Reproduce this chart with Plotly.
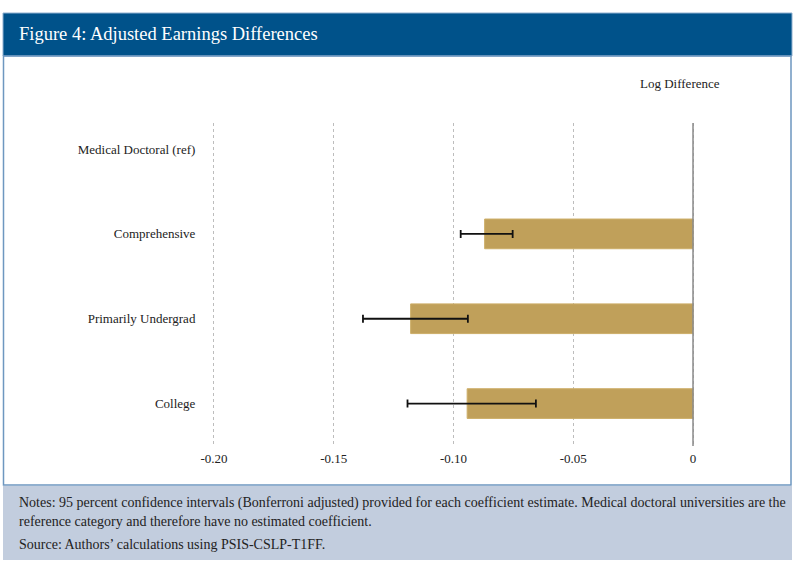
import plotly.graph_objects as go

categories = ["Medical Doctoral (ref)", "Comprehensive", "Primarily Undergrad", "College"]
estimates = [None, -0.0870, -0.1179, -0.0943]
ci_lower = [None, -0.0970, -0.1378, -0.1192]
ci_upper = [None, -0.0753, -0.0940, -0.0656]
tick_vals = [-0.20, -0.15, -0.10, -0.05, 0]
tick_text = ["-0.20", "-0.15", "-0.10", "-0.05", "0"]

title_text = "Figure 4: Adjusted Earnings Differences"
axis_title = "Log Difference"
notes_l1 = ("Notes: 95 percent confidence intervals (Bonferroni adjusted) provided for each coefficient "
            "estimate. Medical doctoral universities are the")
notes_l2 = "reference category and therefore have no estimated coefficient."
source_text = "Source: Authors\u2019 calculations using PSIS-CSLP-T1FF."

W, H = 800, 564
FONT = "Liberation Serif"

def fx(px):
    return px / W

def fy(py):
    return 1 - py / H

err_plus = [None if e is None else u - e for e, u in zip(estimates, ci_upper)]
err_minus = [None if e is None else e - l for e, l in zip(estimates, ci_lower)]

fig = go.Figure()
fig.add_trace(go.Bar(
    y=categories, x=estimates, orientation="h", width=0.35,
    marker=dict(color="#C0A05A", line=dict(color="#CDAE68", width=1)),
    error_x=dict(type="data", symmetric=False, array=err_plus, arrayminus=err_minus,
                 color="#111111", thickness=1.8, width=4),
    showlegend=False, hoverinfo="skip",
))

shapes = [
    # title bar
    dict(type="rect", xref="paper", yref="paper", x0=fx(3), x1=fx(792), y0=fy(56), y1=fy(13),
         fillcolor="#00528A", line=dict(color="#8FB0D0", width=1), layer="below"),
    # white panel border
    dict(type="rect", xref="paper", yref="paper", x0=fx(3.5), x1=fx(791), y0=fy(485), y1=fy(56),
         fillcolor="rgba(0,0,0,0)", line=dict(color="#6E97C0", width=1.5), layer="below"),
    # notes background
    dict(type="rect", xref="paper", yref="paper", x0=fx(3), x1=fx(792), y0=fy(560), y1=fy(486),
         fillcolor="#C2CDDE", line=dict(width=0), layer="below"),
    # zero line
    dict(type="line", xref="x", yref="paper", x0=0, x1=0, y0=fy(446), y1=fy(123),
         line=dict(color="#8A8A8A", width=1.5)),
]

annotations = [
    dict(text=title_text, x=fx(17), y=fy(34), xref="paper", yref="paper", xanchor="left",
         yanchor="middle", showarrow=False, font=dict(family=FONT, size=18.5, color="white")),
    dict(text=axis_title, x=fx(680), y=fy(83), xref="paper", yref="paper", xanchor="center",
         yanchor="middle", showarrow=False, font=dict(family=FONT, size=13, color="#222222")),
    dict(text=notes_l1, x=fx(17), y=fy(503), xref="paper", yref="paper", xanchor="left",
         yanchor="middle", showarrow=False, font=dict(family=FONT, size=14, color="#222222")),
    dict(text=notes_l2, x=fx(17), y=fy(521), xref="paper", yref="paper", xanchor="left",
         yanchor="middle", showarrow=False, font=dict(family=FONT, size=14, color="#222222")),
    dict(text=source_text, x=fx(17), y=fy(544), xref="paper", yref="paper", xanchor="left",
         yanchor="middle", showarrow=False, font=dict(family=FONT, size=14, color="#222222")),
]

fig.update_layout(
    width=W, height=H,
    margin=dict(l=0, r=0, t=0, b=0, pad=0, autoexpand=False),
    paper_bgcolor="white", plot_bgcolor="white",
    font=dict(family=FONT, size=13, color="#222222"),
    shapes=shapes, annotations=annotations,
    xaxis=dict(domain=[fx(210.4), fx(696.6)], range=[-0.2015, 0.0015], automargin=False,
               tickvals=tick_vals, ticktext=tick_text,
               showgrid=True, gridcolor="#BDBDBD", griddash="dot", gridwidth=1,
               zeroline=False, showline=False, ticks="", ticklabelstandoff=3,
               tickfont=dict(family=FONT, size=13, color="#222222"), fixedrange=True),
    yaxis=dict(domain=[fy(446), fy(123)], type="category", automargin=False,
               categoryorder="array", categoryarray=categories,
               range=[3.5, -0.307], showgrid=False, zeroline=False, showline=False,
               ticks="", ticklabelstandoff=14,
               tickfont=dict(family=FONT, size=13, color="#222222"), fixedrange=True),
    bargap=0.65,
)

fig.write_html("out.html", config={"displayModeBar": False},
               post_script="document.body.style.margin='0';document.body.style.overflow='hidden';")
